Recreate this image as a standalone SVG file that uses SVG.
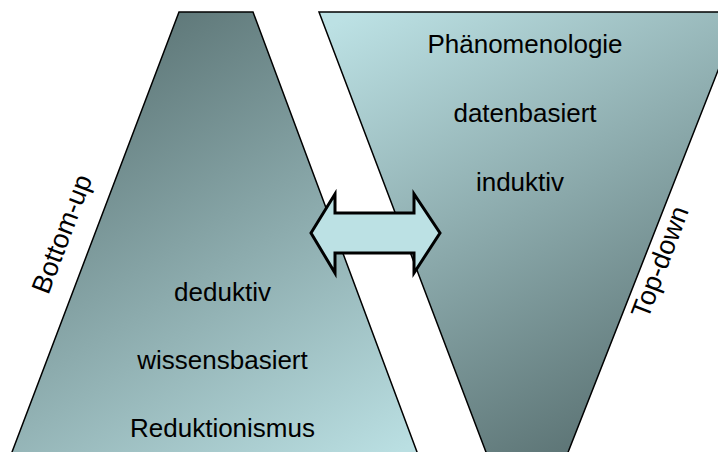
<svg xmlns="http://www.w3.org/2000/svg" width="718" height="452" viewBox="0 0 718 452">
<defs>
<linearGradient id="gL" gradientUnits="userSpaceOnUse" x1="160" y1="10" x2="420" y2="440">
<stop offset="0" stop-color="#5E7778"/>
<stop offset="1" stop-color="#BADFE2"/>
</linearGradient>
<linearGradient id="gR" gradientUnits="userSpaceOnUse" x1="350" y1="15" x2="580" y2="445">
<stop offset="0" stop-color="#BCE1E4"/>
<stop offset="1" stop-color="#5E7677"/>
</linearGradient>
<style>
.shape{stroke:#000;stroke-width:1.5;stroke-linejoin:miter}
.t{font-family:"Liberation Sans",Arial,sans-serif;font-size:26px;fill:#000;text-anchor:middle}
.r{font-size:27px}
.arrow{fill:#BCE1E4;stroke:#000;stroke-width:3;stroke-linejoin:miter}
</style>
</defs>
<rect width="718" height="452" fill="#fff"/>
<g id="left-shape">
<polygon class="shape" fill="url(#gL)" points="179,12 253,12 420,460 9,460"/>
<text class="t" x="222.5" y="301">deduktiv</text>
<text class="t" x="222.5" y="369">wissensbasiert</text>
<text class="t" x="222.5" y="437">Reduktionismus</text>
</g>
<g id="right-shape">
<polygon class="shape" fill="url(#gR)" points="319,12 741,12 565,460 489,460"/>
<text class="t" x="525" y="53">Phänomenologie</text>
<text class="t" x="525" y="122">datenbasiert</text>
<text class="t" x="520" y="191">induktiv</text>
</g>
<g id="label-bottom-up">
<text class="t r" transform="translate(62,234) rotate(-69.2)" y="9">Bottom-up</text>
</g>
<g id="label-top-down">
<text class="t r" transform="translate(660,262) rotate(-69.2)" y="9">Top-down</text>
</g>
<g id="connectors">
<polygon class="arrow" points="311,233 335,194 335,213 414,213 414,194 440,233 414,273 414,253 335,253 335,273"/>
</g>
</svg>
